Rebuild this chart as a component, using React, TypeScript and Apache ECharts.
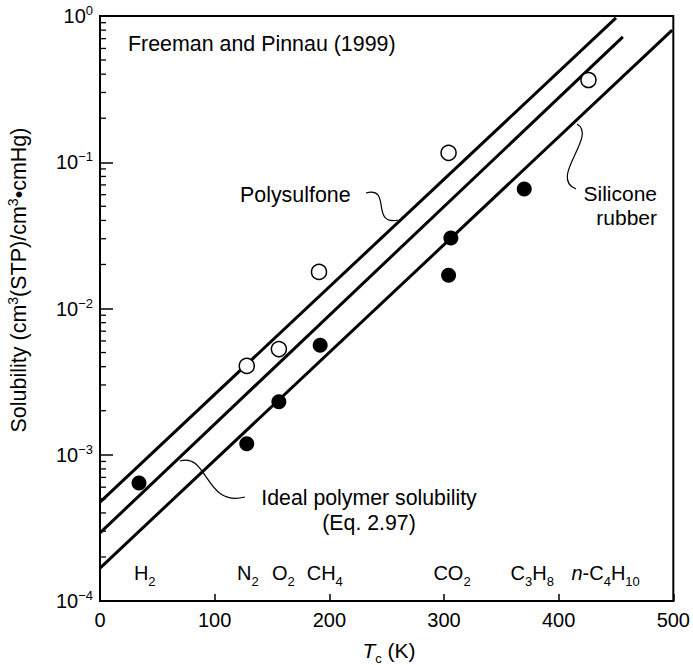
import React, { useEffect, useRef } from "react";
import * as echarts from "echarts";

const FONT = '"Liberation Sans", Arial, Helvetica, sans-serif';

// Axis settings
const xMin = 0;
const xMax = 500;
const xInterval = 100;
const yMin = 1e-4;
const yMax = 1;
const yDecades = [-4, -3, -2, -1];
const minorMantissas = [2, 3, 4, 5, 6, 7, 8, 9];

// Correlation lines: [Tc (K), solubility]
const polysulfoneLine: number[][] = [[0, 4.75e-4], [450, 0.97]];
const idealLine: number[][] = [[0, 2.92e-4], [456, 0.72]];
const siliconeLine: number[][] = [[0, 1.68e-4], [499, 0.8]];

// Measured solubilities
const openCircles: number[][] = [
  [128, 0.00405],
  [156, 0.00528],
  [191, 0.0178],
  [304, 0.116],
  [426, 0.365],
];
const filledCircles: number[][] = [
  [34, 6.4e-4],
  [128, 1.19e-3],
  [156, 2.3e-3],
  [192, 5.6e-3],
  [304, 0.0169],
  [306, 0.0303],
  [370, 0.0656],
];

// Gas labels along the bottom
const gasLabels = ["H{s|2}", "N{s|2}", "O{s|2}", "CH{s|4}", "CO{s|2}", "C{s|3}H{s|8}", "{i|n}-C{s|4}H{s|10}"];
const gasLabelX = [39, 129, 160, 196, 307, 377, 441];
const gasLabelY = 1.55e-4;

export default function App() {
  const ref = useRef<HTMLDivElement>(null);

  useEffect(() => {
    if (!ref.current) return;
    const chart = echarts.init(ref.current, null, { renderer: "svg" });

    const minorTicks: number[][] = [];
    yDecades.forEach((e) => {
      minorMantissas.forEach((m) => minorTicks.push([0, m * Math.pow(10, e)]));
    });

    const lineSeries = (name: string, data: number[][]) => ({
      name,
      type: "line",
      data,
      symbol: "none",
      lineStyle: { color: "#000", width: 3 },
      z: 2,
    });

    const subRich = (size: number) => ({
      s: { fontSize: 13, lineHeight: 13, verticalAlign: "bottom", fontFamily: FONT, color: "#000", fill: "#000" },
      i: { fontSize: size, fontStyle: "italic", fontFamily: FONT, color: "#000", fill: "#000" },
    });

    chart.setOption({
      animation: false,
      grid: {
        left: 100,
        top: 16,
        width: 575,
        height: 585,
        show: true,
        borderColor: "#000",
        borderWidth: 2,
        backgroundColor: "transparent",
      },
      xAxis: {
        type: "value",
        min: xMin,
        max: xMax,
        interval: xInterval,
        axisLine: { lineStyle: { color: "#000", width: 2 } },
        axisTick: { inside: true, length: 7, lineStyle: { color: "#000", width: 1.5 } },
        axisLabel: { color: "#000", fontSize: 20, fontFamily: FONT, margin: 9 },
        splitLine: { show: false },
      },
      yAxis: {
        type: "log",
        logBase: 10,
        min: yMin,
        max: yMax,
        axisLine: { lineStyle: { color: "#000", width: 2 } },
        axisTick: { inside: true, length: 13, lineStyle: { color: "#000", width: 1.5 } },
        axisLabel: {
          color: "#000",
          fontSize: 20,
          fontFamily: FONT,
          margin: 7,
          lineHeight: 24,
          formatter: (v: number) => {
            const e = Math.round(Math.log10(v));
            return "10{p|" + (e < 0 ? "\u2212" + Math.abs(e) : String(e)) + "}";
          },
          rich: {
            p: { fontSize: 13, lineHeight: 13, verticalAlign: "top", fontFamily: FONT, color: "#000" },
          },
        },
        splitLine: { show: false },
      },
      series: [
        lineSeries("Polysulfone", polysulfoneLine),
        lineSeries("Ideal polymer solubility", idealLine),
        lineSeries("Silicone rubber", siliconeLine),
        {
          name: "open",
          type: "scatter",
          data: openCircles,
          symbol: "circle",
          symbolSize: 15,
          itemStyle: { color: "#fff", borderColor: "#000", borderWidth: 1.5, opacity: 1 },
          z: 5,
        },
        {
          name: "filled",
          type: "scatter",
          data: filledCircles,
          symbol: "circle",
          symbolSize: 15,
          itemStyle: { color: "#000", opacity: 1 },
          z: 5,
        },
        {
          name: "minorTicks",
          type: "custom",
          data: minorTicks,
          renderItem: (params: any, api: any) => {
            const p = api.coord([api.value(0), api.value(1)]);
            return {
              type: "line",
              shape: { x1: p[0], y1: p[1], x2: p[0] + 6, y2: p[1] },
              style: { stroke: "#000", lineWidth: 1.3 },
            };
          },
          z: 6,
        },
        {
          name: "gases",
          type: "scatter",
          data: gasLabels.map((g, i) => ({ value: [gasLabelX[i], gasLabelY], name: g })),
          symbolSize: 1,
          itemStyle: { color: "#fff", opacity: 1 },
          label: {
            show: true,
            position: "inside",
            formatter: (p: any) => p.name,
            color: "#000",
            opacity: 1,
            textBorderWidth: 0,
            fontSize: 20,
            fontFamily: FONT,
            lineHeight: 30,
            rich: subRich(20),
          },
          z: 6,
        },
      ],
      graphic: [
        {
          type: "text",
          x: 128,
          y: 44,
          style: { text: "Freeman and Pinnau (1999)", fontSize: 21.4, fontFamily: FONT, fill: "#000", align: "left", verticalAlign: "middle" },
        },
        {
          type: "text",
          x: 240,
          y: 195,
          style: { text: "Polysulfone", fontSize: 21.4, fontFamily: FONT, fill: "#000", align: "left", verticalAlign: "middle" },
        },
        {
          type: "text",
          x: 657,
          y: 205,
          style: { text: "Silicone\nrubber", fontSize: 21, lineHeight: 24, fontFamily: FONT, fill: "#000", align: "right", verticalAlign: "middle" },
        },
        {
          type: "text",
          x: 369,
          y: 510,
          style: { text: "Ideal polymer solubility\n(Eq. 2.97)", fontSize: 21.3, lineHeight: 25, fontFamily: FONT, fill: "#000", align: "center", verticalAlign: "middle" },
        },
        {
          type: "text",
          x: 389,
          y: 650,
          style: {
            text: "{i|T}{s|c} (K)",
            fontSize: 21,
            lineHeight: 30,
            fontFamily: FONT,
            fill: "#000",
            align: "center",
            verticalAlign: "middle",
            rich: subRich(21),
          },
        },
        {
          type: "text",
          x: 19,
          y: 280,
          rotation: Math.PI / 2,
          style: {
            text: "Solubility (cm{p|3}(STP)/cm{p|3}\u2022cmHg)",
            fontSize: 21.5,
            lineHeight: 27,
            fontFamily: FONT,
            fill: "#000",
            align: "center",
            verticalAlign: "middle",
            rich: { p: { fontSize: 14, lineHeight: 14, verticalAlign: "top", fontFamily: FONT, fill: "#000" } },
          },
        },
        {
          type: "bezierCurve",
          shape: { x1: 366, y1: 193, cpx1: 392, cpy1: 186, cpx2: 370, cpy2: 226, x2: 398, y2: 220 },
          style: { stroke: "#000", lineWidth: 1.2, fill: null },
        },
        {
          type: "bezierCurve",
          shape: { x1: 577, y1: 124, cpx1: 598, cpy1: 136, cpx2: 548, cpy2: 178, x2: 576, y2: 189 },
          style: { stroke: "#000", lineWidth: 1.2, fill: null },
        },
        {
          type: "bezierCurve",
          shape: { x1: 180, y1: 461, cpx1: 208, cpy1: 452, cpx2: 205, cpy2: 508, x2: 245, y2: 497 },
          style: { stroke: "#000", lineWidth: 1.2, fill: null },
        },
      ],
    });

    return () => chart.dispose();
  }, []);

  return (
    <div
      ref={ref}
      style={{ position: "fixed", left: 0, top: 0, width: 693, height: 665, background: "#fff" }}
    />
  );
}
